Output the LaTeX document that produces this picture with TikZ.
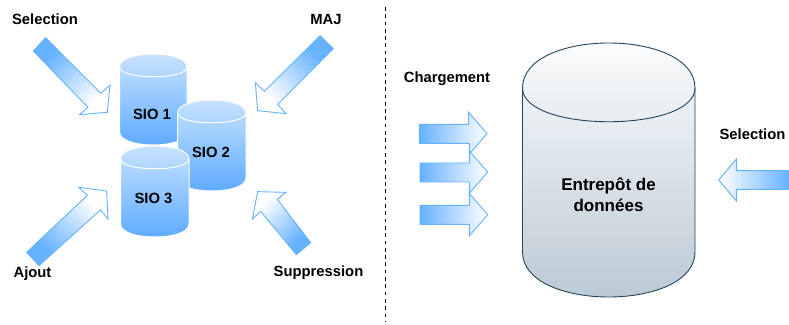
\documentclass[tikz,border=0pt]{standalone}
\usepackage{fontspec}
\setmainfont{Liberation Sans}
\definecolor{arrowblue}{HTML}{66B2FF}
\definecolor{cyltop}{HTML}{CCE5FF}
\definecolor{cylbot}{HTML}{5AA9FF}
\definecolor{wtop}{HTML}{FFFFFF}
\definecolor{wbot}{HTML}{B8C7D3}
\definecolor{wline}{HTML}{23445D}
\pgfdeclareverticalshading{diagshade}{100bp}{color(0bp)=(arrowblue); color(30bp)=(arrowblue); color(72bp)=(white); color(100bp)=(white)}
\tikzset{
  lab/.style={font=\bfseries\fontsize{14.8}{18}\selectfont,text=black,inner sep=0pt,align=center},
  blockarrow/.style={draw=arrowblue,line width=0.9pt,line join=miter,bottom color=arrowblue,top color=white},
  diagarrow/.style={draw=arrowblue,line width=0.9pt,line join=miter,shade,shading=diagshade},
  sio/.style={draw=white,line width=1pt,bottom color=cylbot,top color=cyltop},
  sioline/.style={draw=white,line width=1pt},
  dw/.style={draw=wline,line width=0.9pt,bottom color=wbot,top color=wtop},
  dwline/.style={draw=wline,line width=0.9pt}
}
% zoomed image coordinates, first crop (origin 0,0)
\newcommand{\za}[2]{({(#1)/3},{324-(#2)/3})}
% zoomed image coordinates, second crop (origin 390,50)
\newcommand{\zb}[2]{({390+(#1)/3},{324-50-(#2)/3})}
% cylinder: left x, top y, width, height, bulge dy (pixels, y downward), body style, arc style
\newcommand{\cyl}[7]{%
  \pgfmathsetmacro{\xl}{#1}\pgfmathsetmacro{\xr}{#1+#3}
  \pgfmathsetmacro{\yt}{324-#2}\pgfmathsetmacro{\yb}{324-#2-#4}\pgfmathsetmacro{\dy}{#5}
  \path[#6] (\xl,\yt-\dy) .. controls (\xl,\yt+\dy/3) and (\xr,\yt+\dy/3) .. (\xr,\yt-\dy)
    -- (\xr,\yb+\dy) .. controls (\xr,\yb-\dy/3) and (\xl,\yb-\dy/3) .. (\xl,\yb+\dy) -- cycle;
  \path[#7] (\xl,\yt-\dy) .. controls (\xl,\yt-2*\dy) and (\xr,\yt-2*\dy) .. (\xr,\yt-\dy);
}
\begin{document}
\begin{tikzpicture}[x=1pt,y=1pt]
\useasboundingbox (0,0) rectangle (789,324);
\fill[white] (0,0) rectangle (789,324);
\coordinate (dashtop) at (385,317);
\coordinate (dashbot) at (385,2);
\draw[black,line width=0.9pt,dash pattern=on 3.65pt off 3.65pt] (dashtop) -- (dashbot);
% left cylinders
\cyl{119.5}{54}{67.5}{91}{13}{sio}{sioline}
\cyl{177.5}{100}{68.5}{91}{13}{sio}{sioline}
\cyl{120.5}{146}{68.5}{91}{13}{sio}{sioline}
\node[lab] (sio1) at (152,209.5) {SIO 1};
\node[lab] (sio2) at (211,171.5) {SIO 2};
\node[lab] (sio3) at (153.5,125.5) {SIO 3};
% warehouse
\cyl{522.5}{43}{172.5}{254}{45}{dw}{dwline}
\node[lab,font=\bfseries\fontsize{17}{21}\selectfont] (dwl) at (608.5,129.5) {Entrepôt de\\données};
% block arrows
\path[diagarrow,shading angle=-135] \za{137}{113} -- \za{302}{280} -- \za{330}{255} -- \za{322}{337} -- \za{238}{344} -- \za{264}{322} -- \za{100}{153} -- cycle;
\path[diagarrow,shading angle=135] \za{960}{107} -- \za{1000}{146} -- \za{833}{313} -- \za{858}{341} -- \za{773}{332} -- \za{766}{248} -- \za{793}{274} -- cycle;
\path[diagarrow,shading angle=45] \za{932}{728} -- \za{889}{764} -- \za{782}{634} -- \za{757}{657} -- \za{773}{575} -- \za{858}{577} -- \za{832}{598} -- cycle;
\path[diagarrow,shading angle=-45] \za{80}{757} -- \za{117}{797} -- \za{302}{629} -- \za{324}{658} -- \za{320}{573} -- \za{236}{562} -- \za{262}{586} -- cycle;
\path[blockarrow,shading angle=-90] \zb{88}{223} -- \zb{236}{223} -- \zb{236}{187} -- \zb{291}{251} -- \zb{238}{312} -- \zb{238}{280} -- \zb{88}{280} -- cycle;
\path[blockarrow,shading angle=-90] \zb{90}{339} -- \zb{238}{339} -- \zb{238}{303} -- \zb{293}{366} -- \zb{238}{430} -- \zb{238}{396} -- \zb{90}{396} -- cycle;
\path[blockarrow,shading angle=-90] \zb{90}{466} -- \zb{238}{466} -- \zb{238}{430} -- \zb{293}{494} -- \zb{238}{558} -- \zb{238}{523} -- \zb{90}{523} -- cycle;
\path[blockarrow,shading angle=90] \zb{1197}{362} -- \zb{1040}{362} -- \zb{1040}{326} -- \zb{986}{390} -- \zb{1040}{454} -- \zb{1040}{418} -- \zb{1197}{418} -- cycle;
% labels
\node[lab] (l1) at (45,305) {Selection};
\node[lab] (l2) at (326,305) {MAJ};
\node[lab] (l3) at (32.5,50.5) {Ajout};
\node[lab] (l4) at (318.5,51.5) {Suppression};
\node[lab] (l5) at (447,245.5) {Chargement};
\node[lab] (l6) at (752.5,190) {Selection};
\end{tikzpicture}
\end{document}
